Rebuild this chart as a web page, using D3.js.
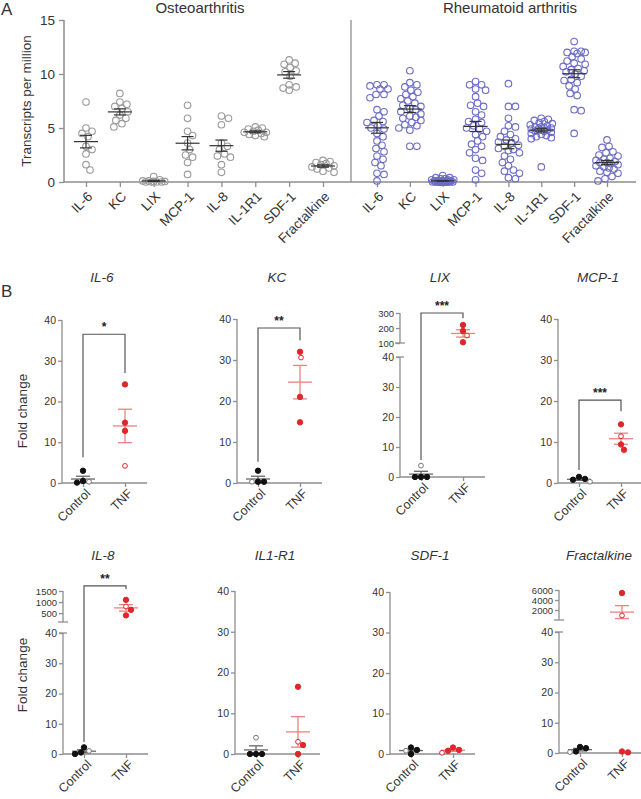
<!DOCTYPE html>
<html><head><meta charset="utf-8">
<script src="https://cdn.jsdelivr.net/npm/d3@7"></script>
<style>body{margin:0;background:#fff} text{font-family:"Liberation Sans",Arial,sans-serif}</style>
</head><body>
<svg id="c" width="641" height="799"></svg>
<script>
// ---------- Panel A data ----------
const genesA = ["IL-6","KC","LIX","MCP-1","IL-8","IL-1R1","SDF-1","Fractalkine"];
const yTicksA = [0,5,10,15];
const oaIL6 = [7.4,5.0,4.7,4.5,4.2,3.3,3.0,2.6,1.6,1.1];
const oaKC = [8.2,7.4,7.2,7.0,6.8,6.5,6.2,5.9,5.7,5.4,5.1];
const oaLIX = [0.5,0.2,0.1,0.1,0.05,0.05,0,0,0,0];
const oaMCP1 = [7.1,5.9,4.7,4.3,3.6,3.0,2.5,2.3,1.8,0.7];
const oaIL8 = [6.1,5.9,5.3,3.6,3.3,3.0,2.6,2.4,2.3,1.6,0.9];
const oaIL1R1 = [5.1,5.0,4.9,4.8,4.7,4.6,4.6,4.5,4.4,4.3,4.2];
const oaSDF1 = [11.3,11.0,10.9,10.6,10.3,10.2,9.8,9.0,8.8,8.7,8.5];
const oaFrac = [2.0,1.9,1.8,1.7,1.6,1.5,1.4,1.3,1.2,1.0,0.9];
const raIL6 = [9.0,9.0,8.9,8.6,8.6,8.1,8.1,7.8,6.7,6.5,6.1,5.6,5.7,5.5,5.2,5.0,4.9,4.5,4.2,3.8,3.4,3.1,2.8,2.4,2.1,1.8,1.5,0.8,0.7,0.1];
const raKC = [10.3,9.2,9.0,8.8,8.5,8.3,8.1,7.9,7.7,7.5,7.3,7.1,7.0,6.8,6.7,6.5,6.3,6.1,6.0,5.9,5.7,5.5,5.3,5.2,5.0,4.8,3.3,3.3];
const raLIX = [0.6,0.4,0.4,0.3,0.3,0.2,0.2,0.2,0.1,0.1,0.1,0.1,0.05,0.05,0.05,0,0,0,0,0,0,0,0,0,0,0,0,0,0,0];
const raMCP1 = [9.3,9.0,9.0,8.6,8.5,7.9,7.3,7.1,7.0,6.5,6.2,5.8,5.5,5.2,5.0,4.7,4.4,4.2,3.8,3.5,3.3,2.7,2.2,2.0,1.1,0.8,0.2,5.6,4.9,3.0];
const raIL8 = [9.1,7.0,7.0,5.9,5.2,5.1,4.7,4.4,4.2,4.0,3.9,3.7,3.6,3.4,3.3,3.1,3.0,2.9,2.7,2.4,2.1,1.8,1.5,1.1,1.0,0.8,0.4,0.3];
const raIL1R1 = [5.9,5.8,5.7,5.6,5.5,5.4,5.3,5.2,5.1,5.1,5.0,5.0,4.9,4.9,4.8,4.8,4.7,4.7,4.6,4.5,4.4,4.3,4.2,4.1,4.0,1.4];
const raSDF1 = [13.0,12.1,12.1,12.0,12.0,11.9,11.6,11.4,11.2,11.0,10.9,10.7,10.5,10.4,10.3,10.2,10.0,9.8,9.5,9.4,9.2,8.9,8.6,8.2,8.0,6.7,6.6,4.5];
const raFrac = [3.9,3.3,3.2,2.8,2.7,2.5,2.4,2.2,2.1,2.0,1.9,1.8,1.8,1.7,1.6,1.5,1.4,1.3,1.2,1.0,0.9,0.8,0.5,0.3,0.1];
const oaData = [oaIL6,oaKC,oaLIX,oaMCP1,oaIL8,oaIL1R1,oaSDF1,oaFrac];
const raData = [raIL6,raKC,raLIX,raMCP1,raIL8,raIL1R1,raSDF1,raFrac];

// ---------- Panel B data ----------
const genesB = ["IL-6","KC","LIX","MCP-1","IL-8","IL1-R1","SDF-1","Fractalkine"];
const groupsB = ["Control","TNF"];
const lowerTicksB = [0,10,20,30,40];
const upperTicksB = [null,null,[100,200,300],null,[500,1000,1500],null,null,[2000,4000,6000]];
const ctrlFilled = [[3.0,0.5,0.1],[3.0,0.3,0.3],[0,0,0],[1.0,0.8,1.5],[0,0.5,2.2],[0,0,0],[1.0,0,1.6],[1.6,0.5,2.0]];
const ctrlOpen   = [[0.3],[0.3],[3.8],[0.3],[1.0],[4.0],[0.8],[0.3]];
const tnfFilled  = [[24.2,14.8,12.8],[32.0,21.0,14.8],[220,180,105],[14.3,9.4,8.1],[1100,650,400],[16.5,2.2,0],[1.0,0.8,1.6],[5400,0.2,0.5]];
const tnfOpen    = [[4.2],[30.6],[150],[11.4],[800],[3.0],[0.3],[900]];
const sigLabel = ["*","**","***","***","**",null,null,null];
const sigTop   = [36.5,37.8,300,20.2,1730,null,null,null];
const sigLeft  = [6.3,5.2,5.7,3.2,4.0,null,null,null];
const sigRight = [27.0,34.8,265,17.5,1590,null,null,null];

// ---------- layout ----------
const svg = d3.select("#c");
const TXT = "#333", AX = "#8e8e8e", BLUE = "#6c6cc6", RED = "#e0262b", PINK = "#f08080";

function swarm(ys, r, maxOff){
  const placed = [], out = new Array(ys.length);
  const order = ys.map((d,i)=>i).sort((a,b)=>ys[a]-ys[b]);
  order.forEach(i=>{
    let best=0, bestD=-1;
    for(let k=0;k<=2*maxOff;k++){
      const off = k===0?0:(k%2?1:-1)*Math.ceil(k/2);
      let md = Infinity;
      placed.forEach(p=>{const d=Math.hypot(p[0]-off,p[1]-ys[i]); if(d<md) md=d;});
      if(md>=2*r){best=off;bestD=md;break;}
      if(md>bestD+0.5){bestD=md;best=off;}
    }
    placed.push([best,ys[i]]); out[i]=best;
  });
  return out;
}
function meanSem(v){const m=d3.mean(v);const s=v.length>1?d3.deviation(v)/Math.sqrt(v.length):0;return [m,s];}
function styleAxis(g,fs){
  g.selectAll("path.domain").remove();
  g.selectAll("line").attr("stroke",AX).attr("stroke-width",1.3);
  g.selectAll("text").attr("fill",TXT).style("font-size",fs+"px");
}

// ===== Panel A =====
const yA = d3.scaleLinear().domain([0,15]).range([182,20]);
const xOA = d3.scalePoint().domain(genesA).range([86,323]);
const xRA = d3.scalePoint().domain(genesA).range([377,607]);
svg.append("text").attr("x",1).attr("y",15).text("A").attr("fill",TXT).style("font-size","17px");
svg.append("text").attr("x",200).attr("y",13).attr("text-anchor","middle").text("Osteoarthritis").attr("fill",TXT).style("font-size","15px");
svg.append("text").attr("x",510).attr("y",13).attr("text-anchor","middle").text("Rheumatoid arthritis").attr("fill",TXT).style("font-size","15px");
svg.append("text").attr("transform","translate(31,101) rotate(-90)").attr("text-anchor","middle").text("Transcripts per million").attr("fill",TXT).style("font-size","13.5px");
const gya = svg.append("g").attr("transform","translate(64,0)").call(d3.axisLeft(yA).tickValues(yTicksA).tickSize(5).tickPadding(4));
styleAxis(gya,13.5);
svg.append("line").attr("x1",64).attr("x2",64).attr("y1",yA(15)).attr("y2",yA(0)).attr("stroke",AX).attr("stroke-width",1.5);
svg.append("line").attr("x1",64).attr("x2",636).attr("y1",yA(0)).attr("y2",yA(0)).attr("stroke",AX).attr("stroke-width",1.5);
svg.append("line").attr("x1",351).attr("x2",351).attr("y1",yA(15)).attr("y2",yA(0)).attr("stroke",AX).attr("stroke-width",1.3);
[[xOA,oaData,"#9a9a9a"],[xRA,raData,BLUE]].forEach(([xs,data,col])=>{
  const gx = svg.append("g").attr("transform",`translate(0,${yA(0)})`).call(d3.axisBottom(xs).tickSize(5).tickFormat(""));
  styleAxis(gx,13.5);
  gx.selectAll("text").remove();
  genesA.forEach((gname,i)=>{
    const cx = xs(gname);
    svg.append("text").attr("transform",`translate(${cx+4},${yA(0)+12}) rotate(-45)`)
      .attr("text-anchor","end").attr("dy","0.35em").text(gname)
      .attr("fill",TXT).style("font-size","13.5px");
    const vals = data[i];
    const ys = vals.map(v=>yA(v));
    const offs = swarm(ys,3.3,11);
    svg.append("g").selectAll("circle").data(vals).join("circle")
      .attr("cx",(d,j)=>cx+offs[j]).attr("cy",d=>yA(d)).attr("r",3.3)
      .attr("fill","none").attr("stroke",col).attr("stroke-width",1.1);
    const [m,s]=meanSem(vals);
    const g=svg.append("g").attr("stroke","#333").attr("stroke-width",1.2);
    g.append("line").attr("x1",cx-12).attr("x2",cx+12).attr("y1",yA(m)).attr("y2",yA(m));
    g.append("line").attr("x1",cx).attr("x2",cx).attr("y1",yA(m-s)).attr("y2",yA(m+s));
    [m-s,m+s].forEach(v=>g.append("line").attr("x1",cx-6).attr("x2",cx+6).attr("y1",yA(v)).attr("y2",yA(v)));
  });
});

// ===== Panel B =====
const axisXB = [62,237,400,558,63,235,390,559];
const y0B = [483,483,477,483,754,754,754,753];
const y40B = [320,319,357,319,633,591,592,632];
const upperDomB = [null,null,[100,300],null,[100,1500],null,null,[0,6000]];
const upperRngB = [null,null,[343,313],null,[622,591],null,null,[620,590]];
const titleYB = [282,282,282,282,560,560,560,560];
svg.append("text").attr("x",1).attr("y",297).text("B").attr("fill",TXT).style("font-size","17px");
[411,675].forEach(cy=>svg.append("text").attr("transform",`translate(27,${cy}) rotate(-90)`).attr("text-anchor","middle").text("Fold change").attr("fill",TXT).style("font-size","13.5px"));

genesB.forEach((gname,i)=>{
  const ax = axisXB[i];
  const g = svg.append("g");
  const low = d3.scaleLinear().domain([0,40]).range([y0B[i],y40B[i]]);
  const up = upperDomB[i] ? d3.scaleLinear().domain(upperDomB[i]).range(upperRngB[i]) : null;
  const y = v => (up && v>40) ? up(v) : low(v);
  const x = d3.scalePoint().domain(groupsB).range([ax+21,ax+63]);
  g.append("text").attr("x",ax+40).attr("y",titleYB[i]).attr("text-anchor","middle").text(gname)
    .style("font-style","italic").style("font-size","13.5px").attr("fill",TXT);
  // y axis
  const gl = g.append("g").attr("transform",`translate(${ax},0)`).call(d3.axisLeft(low).tickValues(lowerTicksB).tickSize(4).tickPadding(2));
  styleAxis(gl,10.5);
  g.append("line").attr("x1",ax).attr("x2",ax).attr("y1",low(40)).attr("y2",low(0)).attr("stroke",AX).attr("stroke-width",1.3);
  if(up){
    const gu = g.append("g").attr("transform",`translate(${ax},0)`)
      .call(d3.axisLeft(up).tickValues(upperTicksB[i]).tickFormat(d3.format("d")).tickSize(4).tickPadding(2));
    styleAxis(gu,9.5);
    const [b,t]=upperDomB[i];
    g.append("line").attr("x1",ax).attr("x2",ax).attr("y1",up(t)).attr("y2",up(b)).attr("stroke",AX).attr("stroke-width",1.3);
    g.append("line").attr("x1",ax-5).attr("x2",ax+5).attr("y1",up(b)).attr("y2",up(b)).attr("stroke",AX).attr("stroke-width",1.3);
    g.append("line").attr("x1",ax-4).attr("x2",ax+4).attr("y1",low(40)).attr("y2",low(40)).attr("stroke",AX).attr("stroke-width",1.3);
  }
  // x axis
  const gx = g.append("g").attr("transform",`translate(0,${low(0)})`).call(d3.axisBottom(x).tickSize(4).tickFormat(""));
  styleAxis(gx,13.5);
  gx.selectAll("text").remove();
  groupsB.forEach(grp=>{
    g.append("text").attr("transform",`translate(${x(grp)+5},${low(0)+8}) rotate(-45)`)
      .attr("text-anchor","end").attr("dy","0.35em").text(grp).attr("fill",TXT).style("font-size","12.5px");
  });
  g.append("line").attr("x1",ax).attr("x2",ax+85).attr("y1",low(0)).attr("y2",low(0)).attr("stroke",AX).attr("stroke-width",1.3);
  // points
  [["Control",ctrlFilled[i],ctrlOpen[i],"#111","#777","#666"],["TNF",tnfFilled[i],tnfOpen[i],RED,RED,PINK]].forEach(([grp,fv,ov,fc,oc,mc])=>{
    const cx = x(grp);
    const all = fv.concat(ov);
    const [m,s] = meanSem(all);
    const ml = g.append("g").attr("stroke",mc).attr("stroke-width",1.3);
    ml.append("line").attr("x1",cx-12).attr("x2",cx+12).attr("y1",y(m)).attr("y2",y(m));
    ml.append("line").attr("x1",cx).attr("x2",cx).attr("y1",y(Math.max(m-s,0))).attr("y2",y(m+s));
    [Math.max(m-s,0),m+s].forEach(v=>ml.append("line").attr("x1",cx-7).attr("x2",cx+7).attr("y1",y(v)).attr("y2",y(v)));
    const offs = swarm(all.map(y),2.9,11);
    g.append("g").selectAll("circle").data(all).join("circle")
      .attr("cx",(d,j)=>cx+offs[j]).attr("cy",d=>y(d)).attr("r",(d,j)=>j<fv.length?2.7:2.4)
      .attr("fill",(d,j)=>j<fv.length?fc:"#fff").attr("stroke",(d,j)=>j<fv.length?fc:oc).attr("stroke-width",1);
  });
  // significance bracket
  if(sigLabel[i]){
    const xl=x("Control"), xr=x("TNF"), yt=y(sigTop[i]);
    g.append("path").attr("d",`M${xl},${y(sigLeft[i])}V${yt}H${xr}V${y(sigRight[i])}`)
      .attr("fill","none").attr("stroke","#555").attr("stroke-width",1.2);
    g.append("text").attr("x",(xl+xr)/2).attr("y",yt-3).attr("text-anchor","middle").text(sigLabel[i])
      .attr("fill","#222").style("font-size","12px").style("font-weight","bold");
  }
});
</script>
</body></html>
